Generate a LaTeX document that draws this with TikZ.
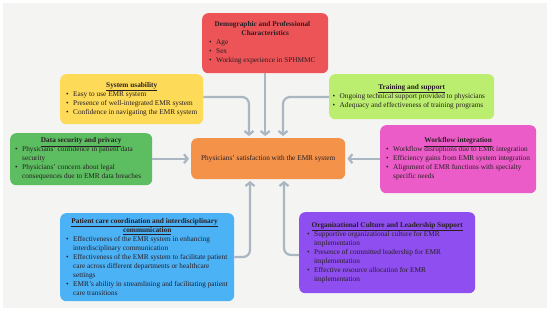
\documentclass[tikz,border=0pt]{standalone}
\usepackage{fontspec}
\setmainfont{Liberation Serif}
\usetikzlibrary{arrows.meta}
\definecolor{bgc}{RGB}{244,244,242}
\definecolor{cred}{RGB}{236,84,88}
\definecolor{cyel}{RGB}{253,218,88}
\definecolor{ctrn}{RGB}{187,238,110}
\definecolor{cdat}{RGB}{92,190,96}
\definecolor{cctr}{RGB}{244,146,74}
\definecolor{cwf}{RGB}{236,92,200}
\definecolor{cblu}{RGB}{76,178,246}
\definecolor{cpur}{RGB}{142,78,240}
\definecolor{cline}{RGB}{170,182,193}
\definecolor{ctxt}{RGB}{40,30,35}
\newcommand{\ul}[1]{\underline{#1}}
\newcommand{\ttl}[1]{{\centering\textbf{#1}\par}}
\newcommand{\itm}[1]{\par\noindent\hangindent=7pt\hangafter=1\makebox[7pt][l]{\textbullet}#1}
\newcommand{\btext}[2]{\begin{minipage}{#1}\fontsize{7.3}{9}\selectfont\raggedright\parindent=0pt #2\end{minipage}}
\tikzset{
  box/.style={rounded corners=6pt, anchor=north west, inner sep=0pt, text=ctxt,
    font=\fontsize{7.3}{9}\selectfont},
  conn/.style={draw=cline, line width=2.2pt, rounded corners=7pt,
    -{Straight Barb[length=3.6pt,width=9pt]}, shorten >=2pt}
}
\begin{document}
\begin{tikzpicture}[x=1pt,y=-1pt]
\useasboundingbox (0,0) rectangle (550,311);
\fill[white] (0,0) rectangle (550,311);
\fill[bgc] (3,3) rectangle (547,308);
\node[box, fill=cred, minimum width=126pt, minimum height=60pt] (red) at (202,13)
  {\btext{112pt}{\ttl{Demographic and Professional\newline Characteristics}
   \itm{Age}\itm{Sex}\itm{Working experience in SPHMMC}}};
\node[box, fill=cyel, minimum width=143pt, minimum height=50pt] (yel) at (60,74)
  {\btext{131pt}{\ttl{\ul{System usability}}
   \itm{Easy to use EMR system}\itm{Presence of well-integrated EMR system}\itm{Confidence in navigating the EMR system}}};
\node[box, fill=ctrn, minimum width=165pt, minimum height=45pt] (trn) at (329,74)
  {\btext{158pt}{\ttl{\ul{Training and support}}
   \itm{Ongoing technical support provided to physicians}\itm{Adequacy and effectiveness of training programs}}};
\node[box, fill=cdat, minimum width=142pt, minimum height=52pt] (dat) at (10,133)
  {\btext{132pt}{\ttl{\ul{Data security and privacy}}
   \itm{Physicians' confidence in patient data\newline security}\itm{Physicians' concern about legal\newline consequences due to EMR data breaches}}};
\node[box, fill=cctr, minimum width=154pt, minimum height=41pt] (ctr) at (191,138)
  {Physicians' satisfaction with the EMR system};
\node[box, fill=cwf, minimum width=156pt, minimum height=68pt] (wf) at (380,125)
  {\btext{144pt}{\ttl{\ul{Workflow integration}}
   \itm{Workflow disruptions due to EMR integration}\itm{Efficiency gains from EMR system integration}\itm{Alignment of EMR functions with specialty\newline specific needs}}};
\node[box, fill=cblu, minimum width=174pt, minimum height=88pt] (blu) at (60,213)
  {\btext{162pt}{\ttl{\ul{Patient care coordination and interdisciplinary}\newline \ul{communication}}
   \itm{Effectiveness of the EMR system in enhancing\newline interdisciplinary communication}\itm{Effectiveness of the EMR system to facilitate patient\newline care across different departments or healthcare\newline settings}\itm{EMR's ability in streamlining and facilitating patient\newline care transitions}}};
\node[box, fill=cpur, minimum width=176pt, minimum height=81pt] (pur) at (299,212)
  {\btext{160pt}{\ttl{\ul{Organizational Culture and Leadership Support}}
   \itm{Supportive organizational culture for EMR\newline implementation}\itm{Presence of committed leadership for EMR\newline implementation}\itm{Effective resource allocation for EMR implementation}}};
% connectors
\draw[conn] (red.south) -- (red.south |- ctr.north);
\draw[conn] (yel.east |- 0,97) -| (249,138);
\draw[conn] (trn.west |- 0,97) -| (283,138);
\draw[conn] (dat.east |- ctr.west) -- (ctr.west);
\draw[conn] (wf.west |- ctr.east) -- (ctr.east);
\draw[conn] (blu.east |- 0,257) -| (250,179);
\draw[conn] (pur.west |- 0,255) -| (284,179);
\end{tikzpicture}
\end{document}
